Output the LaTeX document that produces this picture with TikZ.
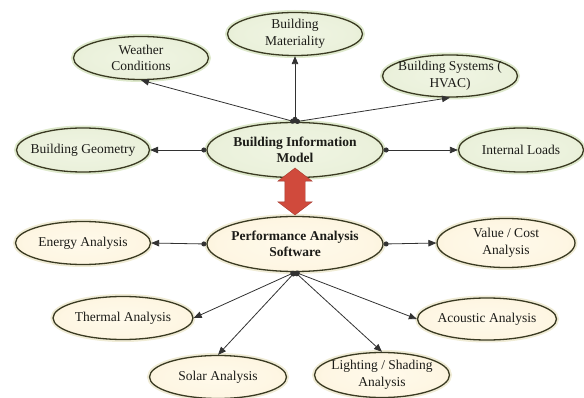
\documentclass[tikz,border=0pt]{standalone}
\usepackage{fontspec}
\setmainfont{Liberation Serif}
\usepackage{tikz}
\usetikzlibrary{arrows.meta,shapes.geometric,shapes.arrows}
\definecolor{bubedge}{RGB}{58,58,34}
\definecolor{bubtext}{RGB}{28,28,24}
\definecolor{grnglow}{RGB}{222,233,204}
\definecolor{crmglow}{RGB}{240,236,214}
\definecolor{arrred}{RGB}{208,74,60}
\definecolor{lnk}{RGB}{50,50,50}
\pgfdeclareradialshading{grnshade}{\pgfpoint{0bp}{0bp}}{%
  rgb(0bp)=(0.94,0.96,0.89); rgb(22bp)=(0.92,0.945,0.86);
  rgb(42bp)=(0.84,0.89,0.74); rgb(50bp)=(0.76,0.83,0.62); rgb(100bp)=(0.76,0.83,0.62)}
\pgfdeclareradialshading{crmshade}{\pgfpoint{0bp}{0bp}}{%
  rgb(0bp)=(1,0.98,0.92); rgb(22bp)=(0.995,0.965,0.89);
  rgb(42bp)=(0.96,0.91,0.77); rgb(50bp)=(0.90,0.84,0.66); rgb(100bp)=(0.90,0.84,0.66)}

\begin{document}
\begin{tikzpicture}[x=1pt,y=-1pt,
  bub/.style={ellipse,draw=bubedge,line width=1.3pt,inner xsep=-14pt,inner ysep=-3pt,
              minimum width=135pt,minimum height=43pt,align=center,
              font=\fontsize{13.5}{16.5}\selectfont,text=bubtext},
  grn/.style={bub,shading=grnshade,
              preaction={draw=grnglow,line width=5pt}},
  crm/.style={bub,shading=crmshade,
              preaction={draw=crmglow,line width=5pt}},
  hub/.style={minimum width=176pt,minimum height=55pt,font=\fontsize{13.5}{16.5}\selectfont\bfseries},
  arr/.style={draw=lnk,line width=0.8pt,
              {Circle[length=5pt]}-{Triangle[length=8pt,width=6.5pt]}},
  dblarr/.style={double arrow,fill=arrred,draw=arrred!80!black,line width=0.4pt,
                 rotate=90,inner sep=10pt,minimum height=47pt,
                 double arrow head extend=7pt,double arrow tip angle=105}
]
\useasboundingbox (0,0) rectangle (584,398);

% BIM side
\node[grn,hub] (bim) at (295,150) {Building Information\\Model};
\node[grn] (weather) at (141,58) {Weather\\Conditions};
\node[grn] (mat) at (295,34) {Building\\Materiality};
\node[grn,minimum height=42pt] (hvac) at (450,76) {Building Systems (\\HVAC)};
\node[grn,minimum width=133pt,minimum height=44pt] (geom) at (83,150) {Building Geometry};
\node[grn,minimum width=125pt,minimum height=44pt] (loads) at (521,150) {Internal Loads};

% Software side
\node[crm,hub] (pas) at (295,244) {Performance Analysis\\Software};
\node[crm] (energy) at (83,243) {Energy Analysis};
\node[crm,minimum width=138pt,minimum height=49pt] (cost) at (506,243) {Value / Cost\\Analysis};
\node[crm,minimum width=140pt] (thermal) at (123,318) {Thermal Analysis};
\node[crm,minimum width=139pt,minimum height=42pt] (acoustic) at (487,319) {Acoustic Analysis};
\node[crm,minimum width=137pt] (solar) at (218,377) {Solar Analysis};
\node[crm,minimum height=45pt] (light) at (382,375) {Lighting / Shading\\Analysis};

% Link between the two
\node[dblarr] (link) at (295,191.5) {};

% Arrows
\draw[arr] (bim.north) -- (weather.south);
\draw[arr] (bim.north) -- (mat.south);
\draw[arr] (bim.north) -- (hvac.south);
\draw[arr] (bim.west) -- (geom.east);
\draw[arr] (bim.east) -- (loads.west);

\draw[arr] (pas.west) -- (energy.east);
\draw[arr] (pas.east) -- (cost.west);
\draw[arr] (pas.south) -- (thermal.east);
\draw[arr] (pas.south) -- (solar.north);
\draw[arr] (pas.south) -- (light.north);
\draw[arr] (pas.south) -- (acoustic.west);

\end{tikzpicture}
\end{document}
